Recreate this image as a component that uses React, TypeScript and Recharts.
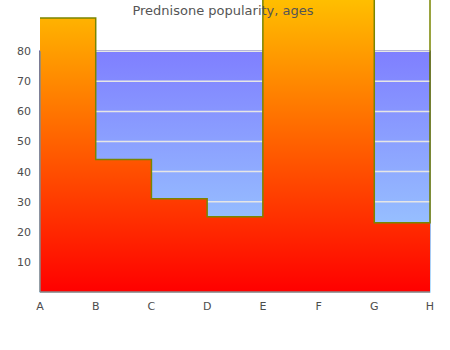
import { Area, AreaChart, CartesianGrid, ReferenceArea, ReferenceLine, XAxis, YAxis } from "recharts";

const AGES = ["A", "B", "C", "D", "E", "F", "G", "H"];
const POPULARITY = [91, 44, 31, 25, 100, 100, 23, 100];
const Y_TICKS = [10, 20, 30, 40, 50, 60, 70, 80];
const BAND_MAX = 80;

const data = AGES.map((age, i) => ({ age, value: POPULARITY[i] }));

const tickStyle = { fontSize: 11, fill: "#4d4d4d", fontFamily: "DejaVu Sans" };

export default function App() {
	return (
		<div style={{ position: "absolute", left: 0, top: 0, width: 450, height: 350, background: "#fff" }}>
			<AreaChart width={450} height={350} data={data} margin={{ top: -9, right: 20, bottom: 28, left: 0 }}>
				<defs>
					<linearGradient id="band" x1="0" y1="0" x2="0" y2="1">
						<stop offset="0%" stopColor="#7f7fff" />
						<stop offset="100%" stopColor="#a0d8ff" />
					</linearGradient>
					<linearGradient id="bandEdge" x1="0" y1="0" x2="0" y2="1">
						<stop offset="0%" stopColor="#10109a" />
						<stop offset="100%" stopColor="#a0d8ff" />
					</linearGradient>
					<linearGradient id="heat" x1="0" y1="0" x2="0" y2="1">
						<stop offset="0%" stopColor="#ffc400" />
						<stop offset="100%" stopColor="#ff0000" />
					</linearGradient>
				</defs>
				<ReferenceArea
					y1={0}
					y2={BAND_MAX}
					fill="url(#band)"
					fillOpacity={1}
					stroke="url(#bandEdge)"
					strokeWidth={1.5}
					zIndex={-60}
				/>
				<CartesianGrid vertical={false} stroke="#e6e6e6" strokeWidth={1.5} zIndex={-50} />
				<XAxis
					dataKey="age"
					tick={tickStyle}
					tickLine={false}
					tickMargin={4}
					axisLine={{ stroke: "#888", strokeWidth: 1.5 }}
					height={30}
				/>
				<YAxis
					domain={[0, 100]}
					ticks={Y_TICKS}
					tick={tickStyle}
					tickLine={false}
					tickMargin={3}
					axisLine={false}
					width={40}
				/>
				<Area
					type="stepAfter"
					dataKey="value"
					stroke="#7a8500"
					strokeWidth={1.5}
					fill="url(#heat)"
					fillOpacity={1}
					dot={false}
					activeDot={false}
					isAnimationActive={false}
				/>
				<ReferenceLine
					segment={[
						{ x: "A", y: 0 },
						{ x: "A", y: BAND_MAX },
					]}
					stroke="#888"
					strokeWidth={1.5}
					zIndex={450}
				/>
			</AreaChart>
			<div
				style={{
					position: "absolute",
					left: 0,
					top: 3,
					width: 446,
					textAlign: "center",
					fontFamily: "DejaVu Sans",
					fontSize: 13,
					color: "#555",
				}}
			>
				Prednisone popularity, ages
			</div>
		</div>
	);
}
